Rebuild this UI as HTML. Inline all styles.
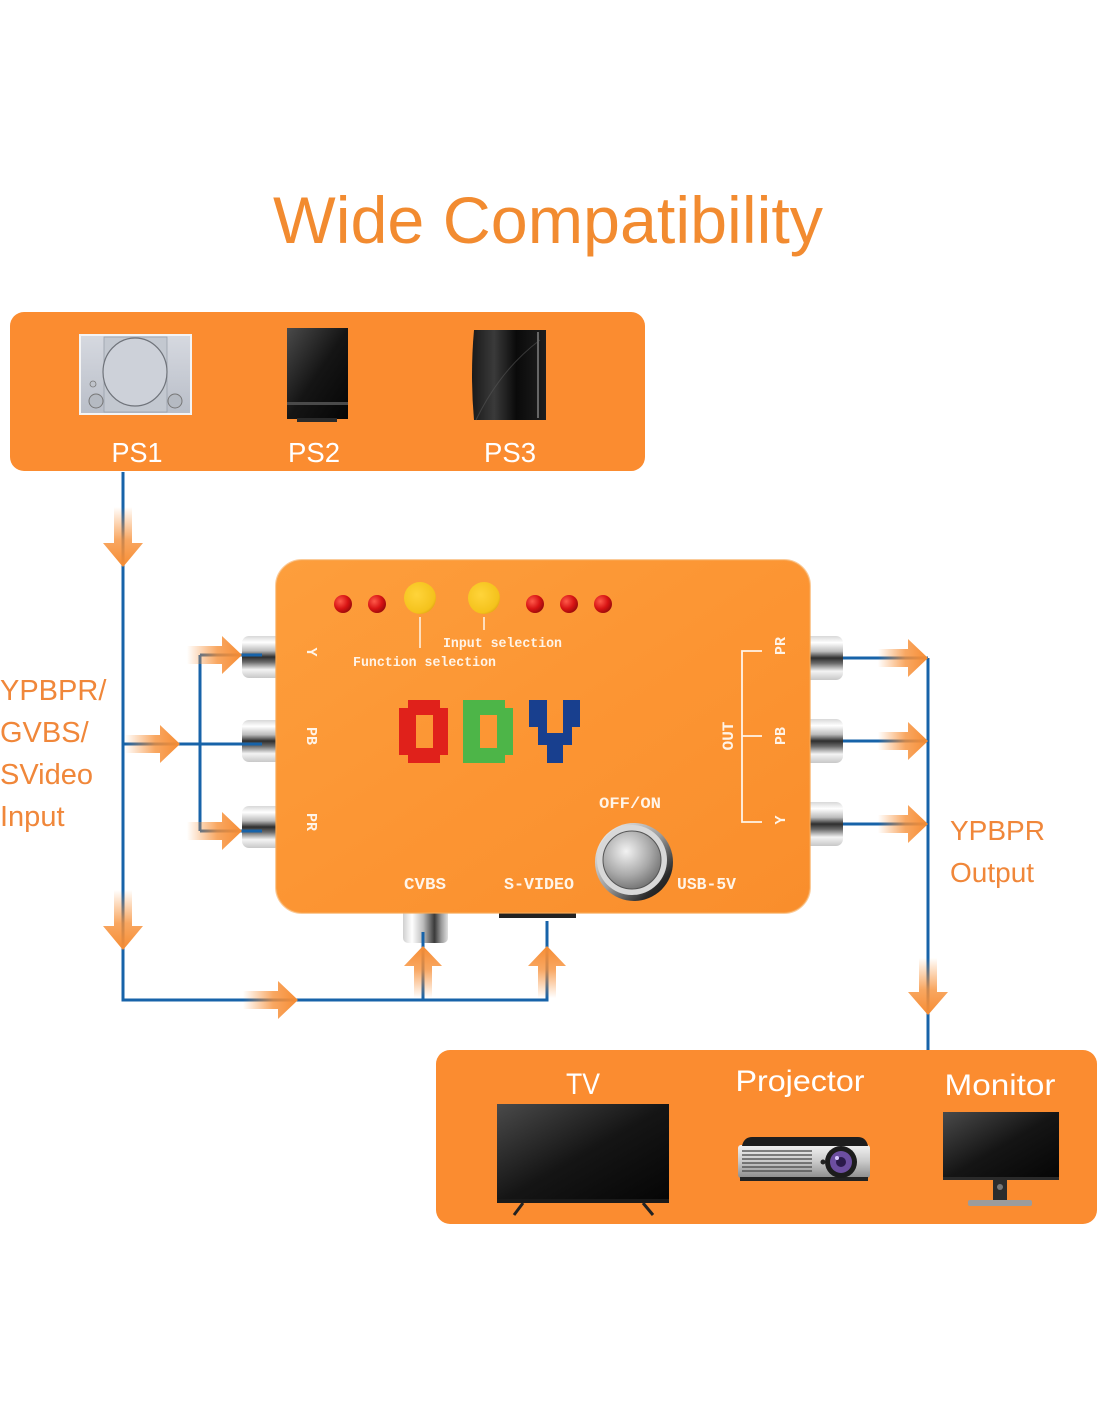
<!DOCTYPE html>
<html><head><meta charset="utf-8"><style>
html,body{margin:0;padding:0;background:#fff;}
svg{display:block;}
text{font-family:"Liberation Sans",sans-serif;}
.px{font-family:"Liberation Mono","DejaVu Sans Mono",monospace;font-weight:bold;fill:#fff4e8;}
</style></head><body>
<svg width="1100" height="1422" viewBox="0 0 1100 1422" xmlns="http://www.w3.org/2000/svg">
<defs>
<linearGradient id="aR" x1="0" y1="0" x2="1" y2="0"><stop offset="0" stop-color="#f7913a" stop-opacity="0"/><stop offset="0.55" stop-color="#f7913a" stop-opacity="0.8"/><stop offset="1" stop-color="#f68c33"/></linearGradient>
<linearGradient id="aD" x1="0" y1="0" x2="0" y2="1"><stop offset="0" stop-color="#f7913a" stop-opacity="0"/><stop offset="0.55" stop-color="#f7913a" stop-opacity="0.8"/><stop offset="1" stop-color="#f68c33"/></linearGradient>
<linearGradient id="aU" x1="0" y1="1" x2="0" y2="0"><stop offset="0" stop-color="#f7913a" stop-opacity="0"/><stop offset="0.55" stop-color="#f7913a" stop-opacity="0.8"/><stop offset="1" stop-color="#f68c33"/></linearGradient>
<linearGradient id="body" x1="0" y1="0" x2="1" y2="1"><stop offset="0" stop-color="#fd9e3c"/><stop offset="0.5" stop-color="#fc9533"/><stop offset="1" stop-color="#f98e2c"/></linearGradient>
<linearGradient id="rca" x1="0" y1="0" x2="0" y2="1"><stop offset="0" stop-color="#d8d8d8"/><stop offset="0.15" stop-color="#ffffff"/><stop offset="0.35" stop-color="#bdbdbd"/><stop offset="0.5" stop-color="#2e2e2e"/><stop offset="0.62" stop-color="#6a6a6a"/><stop offset="0.8" stop-color="#f4f4f4"/><stop offset="1" stop-color="#c8c8c8"/></linearGradient>
<linearGradient id="rcaV" x1="0" y1="0" x2="1" y2="0"><stop offset="0" stop-color="#d0d0d0"/><stop offset="0.2" stop-color="#ffffff"/><stop offset="0.45" stop-color="#bbbbbb"/><stop offset="0.7" stop-color="#3a3a3a"/><stop offset="0.85" stop-color="#9a9a9a"/><stop offset="1" stop-color="#e0e0e0"/></linearGradient>
<linearGradient id="blk" x1="0" y1="0" x2="1" y2="1"><stop offset="0" stop-color="#4a4a4a"/><stop offset="0.5" stop-color="#151515"/><stop offset="1" stop-color="#050505"/></linearGradient>
<linearGradient id="ps3" x1="0" y1="0" x2="1" y2="0"><stop offset="0" stop-color="#1a1a1a"/><stop offset="0.3" stop-color="#3a3a3a"/><stop offset="0.6" stop-color="#0a0a0a"/><stop offset="1" stop-color="#1e1e1e"/></linearGradient>
<linearGradient id="ps1" x1="0" y1="0" x2="0" y2="1"><stop offset="0" stop-color="#d6d9e0"/><stop offset="1" stop-color="#b9bec8"/></linearGradient>
<radialGradient id="btn" cx="0.4" cy="0.35" r="0.7"><stop offset="0" stop-color="#f2f2f2"/><stop offset="0.6" stop-color="#a9a9a9"/><stop offset="1" stop-color="#6f6f6f"/></radialGradient>
<linearGradient id="ring" x1="0" y1="0" x2="1" y2="1"><stop offset="0" stop-color="#ffffff"/><stop offset="0.5" stop-color="#9a9a9a"/><stop offset="0.8" stop-color="#2a2a2a"/><stop offset="1" stop-color="#111"/></linearGradient>
<linearGradient id="proj" x1="0" y1="0" x2="0" y2="1"><stop offset="0" stop-color="#f2f2f2"/><stop offset="0.5" stop-color="#c9c9c9"/><stop offset="1" stop-color="#8c8c8c"/></linearGradient>
<radialGradient id="led" cx="0.35" cy="0.35" r="0.7"><stop offset="0" stop-color="#ff5a4a"/><stop offset="0.6" stop-color="#d81414"/><stop offset="1" stop-color="#9a0a0a"/></radialGradient>
<radialGradient id="yel" cx="0.4" cy="0.4" r="0.7"><stop offset="0" stop-color="#ffd43a"/><stop offset="0.8" stop-color="#f4c21c"/><stop offset="1" stop-color="#d99a10"/></radialGradient>
</defs>

<!-- Title -->
<text x="548" y="243" font-size="66" fill="#f28b30" text-anchor="middle" textLength="550" lengthAdjust="spacingAndGlyphs">Wide Compatibility</text>

<!-- Top panel -->
<rect x="10" y="312" width="635" height="159" rx="14" fill="#fb8c30"/>
<!-- PS1 -->
<rect x="80" y="335" width="111" height="79" fill="url(#ps1)" stroke="#f4f4f4" stroke-width="2"/>
<rect x="104" y="337" width="63" height="75" fill="#c3c8d0" stroke="#9aa0aa" stroke-width="0.8"/>
<ellipse cx="135" cy="372" rx="32" ry="34" fill="#cdd1d9" stroke="#6f737a" stroke-width="1.2"/>
<circle cx="96" cy="401" r="7" fill="#b5bac2" stroke="#777" stroke-width="1"/>
<circle cx="175" cy="401" r="7" fill="#b5bac2" stroke="#777" stroke-width="1"/>
<circle cx="93" cy="384" r="3" fill="#c0c4cc" stroke="#777" stroke-width="0.8"/>
<!-- PS2 -->
<rect x="287" y="328" width="61" height="91" fill="url(#blk)"/>
<rect x="287" y="402" width="61" height="3" fill="#4a4a4a"/>
<rect x="297" y="418" width="40" height="4" fill="#2a2a2a"/>
<!-- PS3 -->
<path d="M474 330 H546 V420 H474 Q470 375 474 330 Z" fill="url(#ps3)"/>
<path d="M476 420 Q500 370 540 340" stroke="#555" stroke-width="1" fill="none" opacity="0.6"/>
<rect x="537" y="332" width="2" height="86" fill="#666"/>
<text x="137" y="462" font-size="28" fill="#fff" text-anchor="middle" textLength="51" lengthAdjust="spacingAndGlyphs">PS1</text>
<text x="314" y="462" font-size="28" fill="#fff" text-anchor="middle" textLength="52" lengthAdjust="spacingAndGlyphs">PS2</text>
<text x="510" y="462" font-size="28" fill="#fff" text-anchor="middle" textLength="52" lengthAdjust="spacingAndGlyphs">PS3</text>

<!-- Left label -->
<g font-size="29" fill="#f0873a">
<text x="0" y="700">YPBPR/</text>
<text x="0" y="742">GVBS/</text>
<text x="0" y="784">SVideo</text>
<text x="0" y="826">Input</text>
</g>
<!-- Right label -->
<g font-size="28" fill="#f0873a">
<text x="950" y="840">YPBPR</text>
<text x="950" y="882">Output</text>
</g>

<!-- Connectors left -->
<g>
<rect x="242" y="636" width="40" height="42" rx="7" fill="url(#rca)"/>
<rect x="242" y="720" width="40" height="42" rx="7" fill="url(#rca)"/>
<rect x="242" y="806" width="40" height="42" rx="7" fill="url(#rca)"/>
<!-- right -->
<rect x="802" y="636" width="41" height="44" rx="7" fill="url(#rca)"/>
<rect x="802" y="719" width="41" height="44" rx="7" fill="url(#rca)"/>
<rect x="802" y="802" width="41" height="44" rx="7" fill="url(#rca)"/>
<!-- CVBS -->
<rect x="403" y="905" width="45" height="38" rx="5" fill="url(#rcaV)"/>
<!-- S-video bar -->
<rect x="499" y="912" width="77" height="6" fill="#222"/>
</g>

<!-- Device body -->
<rect x="276" y="560" width="534" height="353" rx="26" fill="url(#body)"/>
<rect x="276" y="560" width="534" height="353" rx="26" fill="none" stroke="#f8a855" stroke-width="2" opacity="0.6"/>

<!-- LEDs -->
<circle cx="343" cy="604" r="9" fill="url(#led)"/>
<circle cx="377" cy="604" r="9" fill="url(#led)"/>
<circle cx="535" cy="604" r="9" fill="url(#led)"/>
<circle cx="569" cy="604" r="9" fill="url(#led)"/>
<circle cx="603" cy="604" r="9" fill="url(#led)"/>
<circle cx="420" cy="598" r="16" fill="url(#yel)"/>
<circle cx="484" cy="598" r="16" fill="url(#yel)"/>
<line x1="420" y1="617" x2="420" y2="648" stroke="#fff4e8" stroke-width="1.5"/>
<line x1="484" y1="617" x2="484" y2="630" stroke="#fff4e8" stroke-width="1.5"/>
<text class="px" x="443" y="647" font-size="14" textLength="119" lengthAdjust="spacingAndGlyphs">Input selection</text>
<text class="px" x="353" y="666" font-size="14" textLength="143" lengthAdjust="spacingAndGlyphs">Function selection</text>

<!-- left rotated labels -->
<text class="px" font-size="15" text-anchor="middle" transform="translate(307 652) rotate(90)">Y</text>
<text class="px" font-size="15" text-anchor="middle" transform="translate(307 736) rotate(90)">PB</text>
<text class="px" font-size="15" text-anchor="middle" transform="translate(307 822) rotate(90)">PR</text>

<!-- ODV logo -->
<path fill-rule="evenodd" fill="#e0211b" d="M408 700 H440 V708 H448 V755 H440 V763 H408 V755 H399 V708 H408 Z M416 715 V748 H433 V715 Z"/>
<path fill-rule="evenodd" fill="#4db548" d="M463 700 H505 V708 H513 V755 H505 V763 H463 Z M480 715 V748 H497 V715 Z"/>
<path fill="#183f8e" d="M529 700 H547 V733 H563 V700 H580 V727 H572 V745 H563 V763 H547 V745 H538 V727 H529 Z"/>

<!-- right bracket -->
<path d="M762 651 H742 V822 H762 M742 736 H762" stroke="#fff4e8" stroke-width="1.8" fill="none"/>
<text class="px" font-size="15" text-anchor="middle" transform="translate(785 646) rotate(-90)">PR</text>
<text class="px" font-size="15" text-anchor="middle" transform="translate(785 736) rotate(-90)">PB</text>
<text class="px" font-size="15" text-anchor="middle" transform="translate(785 820) rotate(-90)">Y</text>
<text class="px" font-size="16" text-anchor="middle" transform="translate(733 736) rotate(-90)">OUT</text>

<!-- power -->
<text class="px" x="599" y="808" font-size="16" textLength="62" lengthAdjust="spacingAndGlyphs">OFF/ON</text>
<circle cx="634" cy="862" r="39" fill="url(#ring)"/>
<circle cx="632" cy="860" r="35" fill="#d8d8d8"/>
<circle cx="632" cy="860" r="29" fill="url(#btn)" stroke="#555" stroke-width="1"/>
<text class="px" x="404" y="889" font-size="17" textLength="42" lengthAdjust="spacingAndGlyphs">CVBS</text>
<text class="px" x="504" y="889" font-size="17" textLength="70" lengthAdjust="spacingAndGlyphs">S-VIDEO</text>
<text class="px" x="677" y="889" font-size="17" textLength="59" lengthAdjust="spacingAndGlyphs">USB-5V</text>

<!-- Blue lines -->
<g stroke="#1763a9" stroke-width="3" fill="none">
<path d="M123 472 V1000 H547 V921"/>
<path d="M423 1000 V932"/>
<path d="M123 744 H262"/>
<path d="M200 655 V831"/>
<path d="M200 655 H262"/>
<path d="M200 831 H262"/>
<path d="M843 658 H928"/>
<path d="M843 741 H928"/>
<path d="M843 824 H928"/>
<path d="M928 658 V1050"/>
</g>

<!-- Arrows -->
<g>
<polygon fill="url(#aR)" points="187,646 222,646 222,636 242,655 222,674 222,664 187,664"/>
<polygon fill="url(#aR)" points="125,735 160,735 160,725 180,744 160,763 160,753 125,753"/>
<polygon fill="url(#aR)" points="187,822 222,822 222,812 242,831 222,850 222,840 187,840"/>
<polygon fill="url(#aR)" points="243,991 278,991 278,981 298,1000 278,1019 278,1009 243,1009"/>
<polygon fill="url(#aR)" points="878,649 908,649 908,639 928,658 908,677 908,667 878,667"/>
<polygon fill="url(#aR)" points="878,732 908,732 908,722 928,741 908,760 908,750 878,750"/>
<polygon fill="url(#aR)" points="878,815 908,815 908,805 928,824 908,843 908,833 878,833"/>
<polygon fill="url(#aD)" points="114,507 114,543 103,543 123,567 143,543 132,543 132,507"/>
<polygon fill="url(#aD)" points="114,890 114,926 103,926 123,950 143,926 132,926 132,890"/>
<polygon fill="url(#aD)" points="919,958 919,992 908,992 928,1015 948,992 937,992 937,958"/>
<polygon fill="url(#aU)" points="414,998 414,966 404,966 423,946 442,966 432,966 432,998"/>
<polygon fill="url(#aU)" points="538,998 538,966 528,966 547,946 566,966 556,966 556,998"/>
</g>

<!-- Bottom panel -->
<rect x="436" y="1050" width="661" height="174" rx="14" fill="#fb8c30"/>
<text x="583" y="1094" font-size="30" fill="#fff" text-anchor="middle" textLength="34" lengthAdjust="spacingAndGlyphs">TV</text>
<text x="800" y="1091" font-size="30" fill="#fff" text-anchor="middle" textLength="129" lengthAdjust="spacingAndGlyphs">Projector</text>
<text x="1000" y="1095" font-size="30" fill="#fff" text-anchor="middle" textLength="111" lengthAdjust="spacingAndGlyphs">Monitor</text>
<!-- TV -->
<rect x="497" y="1104" width="172" height="99" fill="url(#blk)"/>
<rect x="497" y="1199" width="172" height="4" fill="#1a1a1a"/>
<line x1="523" y1="1203" x2="514" y2="1215" stroke="#222" stroke-width="3"/>
<line x1="643" y1="1203" x2="653" y2="1215" stroke="#222" stroke-width="3"/>
<!-- Projector -->
<rect x="738" y="1145" width="132" height="33" rx="3" fill="url(#proj)"/>
<path d="M742 1146 Q744 1137 752 1137 H858 Q866 1137 868 1146 Z" fill="#1e1e1e"/>
<g stroke="#444" stroke-width="1.2">
<line x1="742" y1="1151" x2="812" y2="1151"/><line x1="742" y1="1155" x2="812" y2="1155"/>
<line x1="742" y1="1159" x2="812" y2="1159"/><line x1="742" y1="1163" x2="812" y2="1163"/>
<line x1="742" y1="1167" x2="812" y2="1167"/><line x1="742" y1="1171" x2="812" y2="1171"/>
</g>
<rect x="740" y="1177" width="128" height="4" fill="#222"/>
<circle cx="823" cy="1162" r="2.5" fill="#222"/>
<circle cx="841" cy="1162" r="16" fill="#1c1c1c"/>
<circle cx="841" cy="1162" r="11" fill="#6c4ea0"/>
<circle cx="841" cy="1162" r="5" fill="#2a1a4a"/>
<circle cx="837" cy="1158" r="2" fill="#d8c8ff"/>
<!-- Monitor -->
<rect x="943" y="1112" width="116" height="68" fill="url(#blk)"/>
<rect x="943" y="1177" width="116" height="3" fill="#2a2a2a"/>
<rect x="993" y="1180" width="14" height="22" fill="#2c2c2c"/>
<circle cx="1000" cy="1187" r="3" fill="#777"/>
<rect x="968" y="1200" width="64" height="6" rx="2" fill="#9c9c9c"/>
</svg>
</body></html>
